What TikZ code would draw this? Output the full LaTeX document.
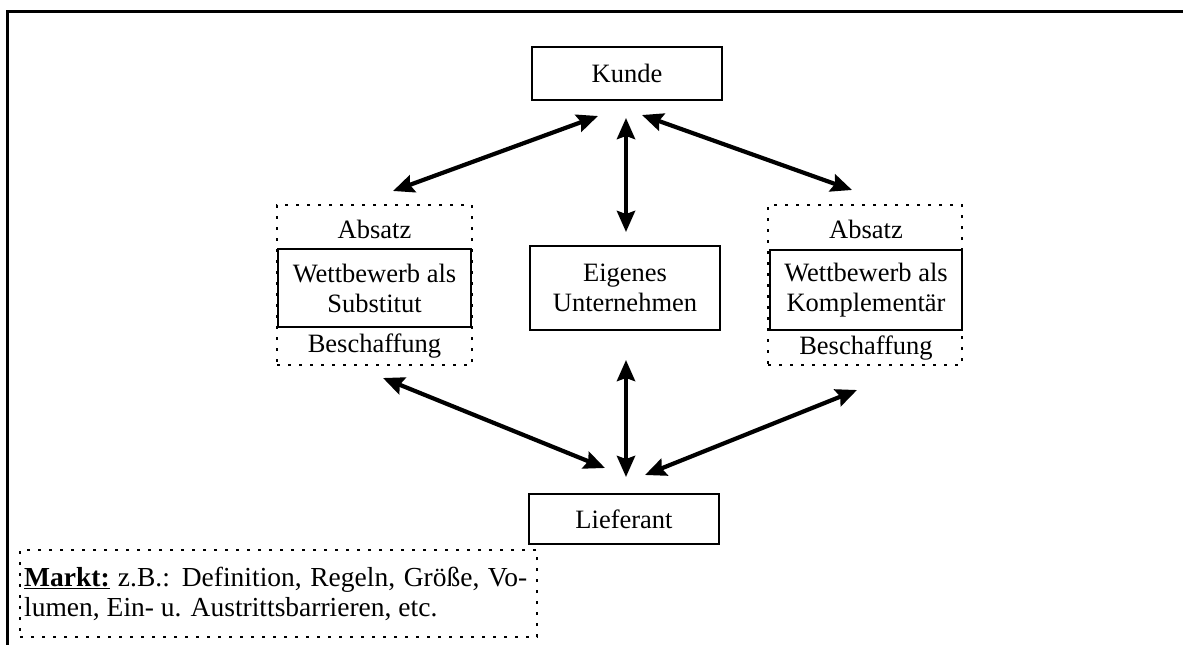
\documentclass[tikz,border=0pt]{standalone}
\usepackage{fontspec}
\setmainfont{Liberation Serif}
\usetikzlibrary{arrows.meta}
\tikzset{
  solidbox/.style={draw, line width=2.4pt, minimum width=#1, inner sep=0pt},
  dotbox/.style={draw, line width=2.4pt, dash pattern=on 3pt off 8pt, inner sep=0pt},
  lbl/.style={font=\fontsize{26.5}{30}\selectfont, align=center, inner sep=0pt},
  note/.style={font=\fontsize{27.5}{30}\selectfont, align=left, inner sep=0pt},
  biarrow/.style={line width=4.2pt, {Stealth[length=21pt,width=18pt,inset=3pt]}-{Stealth[length=21pt,width=18pt,inset=3pt]}},
  frame/.style={line width=3pt}
}
\begin{document}
\begin{tikzpicture}[x=1pt,y=-1pt]
\useasboundingbox (0,0) rectangle (1183,645);
% outer frame (top and left edges)
\draw[frame] (1183,11) -- (7,11) -- (7,645);

% central column
\node[solidbox=190pt, minimum height=53pt] (kunde) at (627,73.5) {};
\node[lbl] at (kunde) {Kunde};
\node[solidbox=190pt, minimum height=84pt] (eigen) at (625,288) {};
\node[lbl] at (eigen) {Eigenes\\Unternehmen};
\node[solidbox=190pt, minimum height=50pt] (lief) at (624,519) {};
\node[lbl] at (lief) {Lieferant};

% left competitor group
\node[dotbox, minimum width=195pt, minimum height=160pt] (lgrp) at (374.5,285) {};
\node[solidbox=193pt, minimum height=78pt] (lsub) at (374.5,288) {};
\node[lbl] at (lsub) {Wettbewerb als\\Substitut};
\node[lbl] (labs) at (374.5,229) {Absatz};
\node[lbl] (lbes) at (374.5,346) {Beschaffung};

% right competitor group
\node[dotbox, minimum width=194pt, minimum height=160pt] (rgrp) at (865,285) {};
\node[solidbox=192pt, minimum height=80pt] (rkom) at (866,290) {};
\node[lbl] at (rkom) {Wettbewerb als\\Komplementär};
\node[lbl] (rabs) at (866,229) {Absatz};
\node[lbl] (rbes) at (866,348) {Beschaffung};

% market note
\node[dotbox, minimum width=517pt, minimum height=87pt] (markt) at (278.5,593.5) {};
\node[note, anchor=west] at (24,594)
  {\hbox to 503pt{\underline{\textbf{Markt:}} z.B.: Definition, Regeln, Größe, Vo-}\\lumen, Ein- u. Austrittsbarrieren, etc.};

% arrow end points
\coordinate (kl) at (598,116);
\coordinate (km) at (626,118);
\coordinate (kr) at (642,115);
\coordinate (lt) at (393,191);
\coordinate (rt) at (852,190);
\coordinate (et) at (626,232);
\coordinate (eb) at (626,360);
\coordinate (fl) at (605,468);
\coordinate (fm) at (626,477);
\coordinate (fr) at (645,475);
\coordinate (lb) at (383,378);
\coordinate (rb) at (857,390);

\draw[biarrow] (lt) -- (kl);
\draw[biarrow] (et) -- (km);
\draw[biarrow] (kr) -- (rt);
\draw[biarrow] (lb) -- (fl);
\draw[biarrow] (eb) -- (fm);
\draw[biarrow] (fr) -- (rb);
\end{tikzpicture}
\end{document}
